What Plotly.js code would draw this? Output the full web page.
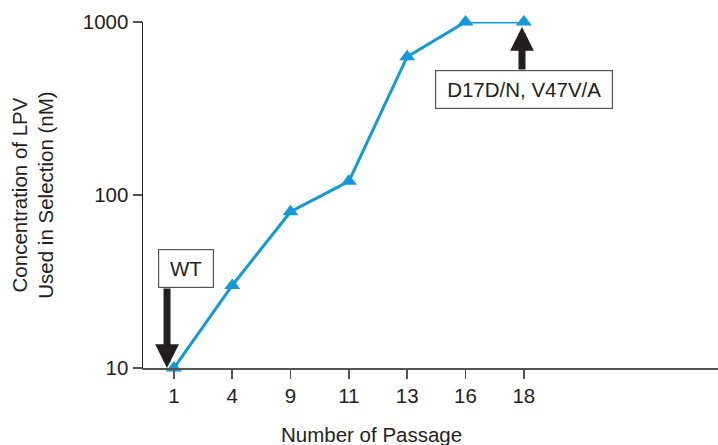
<!DOCTYPE html>
<html><head><meta charset="utf-8">
<script src="https://cdn.plot.ly/plotly-3.0.1.min.js"></script>
<style>html,body{margin:0;padding:0;background:#fff}</style>
</head><body>
<div id="chart" style="width:718px;height:445px"></div>
<script>
const passages = ["1", "4", "9", "11", "13", "16", "18"];
const concentration = [10, 30, 80, 120, 630, 1000, 1000];
const yTickVals = [10, 100, 1000];
const yTickText = ["10", "100", "1000"];
const labelStart = "WT";
const labelEnd = "D17D/N, V47V/A";

const FONT = "'Liberation Sans Narrow', 'Arial Narrow', 'Liberation Sans', Arial, sans-serif";
const INK = "#231f20";
const GRAY = "#555555";
const BLUE = "#1199d8";

const trace = {
  x: passages, y: concentration, type: "scatter", mode: "lines+markers",
  line: {color: BLUE, width: 3},
  marker: {symbol: "triangle-up", size: 14, color: BLUE},
  cliponaxis: false, hoverinfo: "skip"
};

const layout = {
  width: 718, height: 445,
  margin: {l: 143, r: 0, t: 22, b: 77},
  paper_bgcolor: "#fff", plot_bgcolor: "#fff",
  showlegend: false,
  font: {family: FONT, color: INK, size: 20},
  xaxis: {
    type: "category", range: [-0.53, 9.33],
    showgrid: false, zeroline: false,
    showline: true, linecolor: GRAY, linewidth: 1.5,
    ticks: "outside", ticklen: 9, tickwidth: 1.5, tickcolor: GRAY,
    tickfont: {family: FONT, size: 20.5, color: INK},
    fixedrange: true
  },
  yaxis: {
    type: "log", range: [1, 3],
    tickvals: yTickVals, ticktext: yTickText,
    showgrid: false, zeroline: false,
    showline: true, linecolor: INK, linewidth: 1.5,
    ticks: "outside", ticklen: 9, tickwidth: 1.5, tickcolor: GRAY,
    tickfont: {family: FONT, size: 20.5, color: INK},
    title: {text: "Concentration of LPV<br>Used in Selection (nM)", font: {family: FONT, size: 20.5, color: INK}, standoff: 23},
    fixedrange: true
  },
  annotations: [
    {xref: "paper", yref: "paper", x: (371 - 143) / 575, y: -(434 - 368) / 346, text: "Number of Passage",
     showarrow: false, font: {family: FONT, size: 20.5, color: INK}, xanchor: "center", yanchor: "middle"},
    {xref: "x", yref: "y", x: -0.118, y: 1, text: "", showarrow: true, standoff: 0,
     arrowhead: 2, arrowwidth: 7, arrowsize: 0.68, arrowcolor: INK, ax: 0, ay: -81},
    {xref: "x", yref: "y", x: 0.206, y: 1.578, text: labelStart, showarrow: false,
     width: 50, height: 33, bordercolor: GRAY, borderwidth: 1.2, bgcolor: "#fff", borderpad: 2,
     font: {family: FONT, size: 20.5, color: INK}},
    {xref: "x", yref: "y", x: 5.969, y: 2.971, text: "", showarrow: true, standoff: 0,
     arrowhead: 2, arrowwidth: 7, arrowsize: 0.68, arrowcolor: INK, ax: 0, ay: 44},
    {xref: "x", yref: "y", x: 6.003, y: 2.607, text: labelEnd, showarrow: false,
     width: 172, height: 33, bordercolor: GRAY, borderwidth: 1.2, bgcolor: "#fff", borderpad: 2,
     font: {family: FONT, size: 20.5, color: INK}}
  ]
};

Plotly.newPlot("chart", [trace], layout, {displayModeBar: false, staticPlot: true});
</script>
</body></html>
